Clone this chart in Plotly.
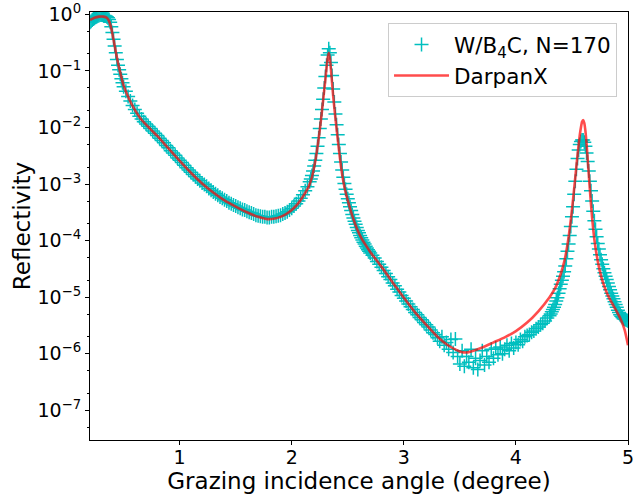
import numpy as np
import plotly.graph_objects as go

# ---------------- measured data (W/B4C, N=170) ----------------
data_angle = [
    0.20, 0.21, 0.22, 0.23, 0.24, 0.25, 0.26, 0.27, 0.28, 0.29, 0.30, 0.31, 0.32, 0.33, 0.34, 0.35,
    0.36, 0.37, 0.38, 0.39, 0.40, 0.41, 0.42, 0.43, 0.44, 0.45, 0.46, 0.47, 0.48, 0.49, 0.50,
    0.52, 0.54, 0.56, 0.58, 0.60, 0.62, 0.64, 0.66, 0.68, 0.70, 0.72, 0.74, 0.76, 0.78, 0.80,
    0.82, 0.84, 0.86, 0.88, 0.90, 0.92, 0.94, 0.96, 0.98, 1.00, 1.02, 1.04, 1.06, 1.08, 1.10,
    1.12, 1.14, 1.16, 1.18, 1.20, 1.22, 1.24, 1.26, 1.28, 1.30, 1.32, 1.34, 1.36, 1.38, 1.40,
    1.42, 1.44, 1.46, 1.48, 1.50, 1.52, 1.54, 1.56, 1.58, 1.60, 1.62, 1.64, 1.66, 1.68, 1.70,
    1.72, 1.74, 1.76, 1.78, 1.80, 1.82, 1.84, 1.86, 1.88, 1.90, 1.92, 1.94, 1.96, 1.98, 2.00,
    2.02, 2.04, 2.06, 2.08, 2.10, 2.12, 2.14, 2.16,
    2.17, 2.18, 2.19, 2.20, 2.21, 2.22, 2.23, 2.24, 2.25, 2.26, 2.27, 2.28, 2.29, 2.30, 2.31,
    2.32, 2.33, 2.34, 2.35, 2.36, 2.37, 2.38, 2.39, 2.40, 2.41, 2.42, 2.43, 2.44, 2.45, 2.46,
    2.47, 2.48, 2.49, 2.50, 2.51, 2.52, 2.53, 2.54, 2.55, 2.56, 2.57, 2.58, 2.59, 2.60, 2.61,
    2.62, 2.63, 2.64, 2.65, 2.66, 2.67, 2.68, 2.69, 2.70,
    2.72, 2.74, 2.76, 2.78, 2.80, 2.82, 2.84, 2.86, 2.88, 2.90, 2.92, 2.94, 2.96, 2.98, 3.00,
    3.02, 3.04, 3.06, 3.08, 3.10, 3.12, 3.14, 3.16, 3.18, 3.20, 3.22, 3.24, 3.26, 3.28, 3.30,
    3.32, 3.34, 3.36, 3.38, 3.40, 3.42, 3.44, 3.46, 3.48, 3.50, 3.52, 3.54, 3.56, 3.58, 3.60,
    3.62, 3.64, 3.66, 3.68, 3.70, 3.72, 3.74, 3.76, 3.78, 3.80, 3.82, 3.84, 3.86, 3.88, 3.90,
    3.92, 3.94, 3.96, 3.98, 4.00, 4.02, 4.04, 4.06, 4.08, 4.10, 4.12, 4.14, 4.16, 4.18, 4.20,
    4.22, 4.24, 4.26, 4.28, 4.30,
    4.31, 4.32, 4.33, 4.34, 4.35, 4.36, 4.37, 4.38, 4.39, 4.40, 4.41, 4.42, 4.43, 4.44, 4.45,
    4.46, 4.47, 4.48, 4.49, 4.50, 4.51, 4.52, 4.53, 4.54, 4.55, 4.56, 4.57, 4.58, 4.59, 4.60,
    4.61, 4.62, 4.63, 4.64, 4.65, 4.66, 4.67, 4.68, 4.69, 4.70, 4.71, 4.72, 4.73, 4.74, 4.75,
    4.76, 4.77, 4.78, 4.79, 4.80, 4.81, 4.82, 4.83, 4.84, 4.85, 4.86, 4.87, 4.88, 4.89, 4.90,
    4.91, 4.92, 4.93, 4.94, 4.95, 4.96, 4.97, 4.98, 4.99, 5.00,
]
# log10 of reflectivity
data_log10R = [
    -0.14, -0.12, -0.10, -0.08, -0.07, -0.05, -0.04, -0.03, -0.02, -0.01, -0.01, -0.01, -0.02, -0.02, -0.03, -0.04,
    -0.06, -0.09, -0.14, -0.22, -0.32, -0.44, -0.56, -0.68, -0.80, -0.90, -0.98, -1.06, -1.14, -1.21, -1.28,
    -1.36, -1.45, -1.53, -1.61, -1.68, -1.75, -1.80, -1.85, -1.90, -1.94, -1.98, -2.02, -2.06, -2.10, -2.14,
    -2.19, -2.23, -2.27, -2.32, -2.36, -2.41, -2.45, -2.49, -2.54, -2.58, -2.62, -2.67, -2.71, -2.75, -2.79,
    -2.83, -2.87, -2.91, -2.94, -2.98, -3.01, -3.04, -3.08, -3.11, -3.14, -3.17, -3.20, -3.23, -3.25, -3.28,
    -3.30, -3.33, -3.35, -3.37, -3.39, -3.41, -3.43, -3.45, -3.46, -3.48, -3.50, -3.51, -3.53, -3.55, -3.56,
    -3.57, -3.58, -3.58, -3.59, -3.59, -3.58, -3.58, -3.57, -3.56, -3.55, -3.53, -3.51, -3.49, -3.46, -3.43,
    -3.39, -3.35, -3.30, -3.25, -3.19, -3.12, -3.05, -2.96,
    -2.91, -2.85, -2.77, -2.68, -2.58, -2.46, -2.33, -2.18, -2.02, -1.85, -1.68, -1.50, -1.30, -1.10, -0.90,
    -0.72, -0.61, -0.68, -0.85, -1.08, -1.32, -1.55, -1.76, -1.95, -2.13, -2.30, -2.46, -2.61, -2.75, -2.88,
    -2.99, -3.09, -3.18, -3.26, -3.33, -3.40, -3.47, -3.54, -3.60, -3.66, -3.71, -3.77, -3.82, -3.86, -3.91,
    -3.95, -3.99, -4.03, -4.06, -4.10, -4.13, -4.16, -4.19, -4.22,
    -4.26, -4.31, -4.37, -4.42, -4.47, -4.53, -4.58, -4.64, -4.69, -4.75, -4.80, -4.86, -4.91, -4.97, -5.02,
    -5.07, -5.12, -5.17, -5.22, -5.27, -5.31, -5.36, -5.40, -5.45, -5.49, -5.53, -5.58, -5.63, -5.66, -5.72,
    -5.78, -5.70, -5.85, -5.80, -5.92, -5.75, -5.98, -5.74, -6.05, -6.18, -5.95, -6.22, -6.05, -6.15, -5.92,
    -6.25, -6.08, -6.28, -6.12, -5.95, -6.20, -6.05, -6.15, -5.92, -6.08, -5.90, -6.02, -5.88, -6.00, -5.92,
    -5.85, -5.95, -5.82, -5.90, -5.80, -5.84, -5.75, -5.78, -5.70, -5.68, -5.66, -5.62, -5.60, -5.56, -5.53,
    -5.49, -5.46, -5.42, -5.37, -5.33,
    -5.30, -5.26, -5.22, -5.18, -5.13, -5.07, -5.01, -4.93, -4.85, -4.77, -4.70, -4.63, -4.55, -4.45, -4.32,
    -4.19, -4.06, -3.91, -3.75, -3.58, -3.40, -3.18, -2.95, -2.74, -2.55, -2.40, -2.30, -2.25, -2.22, -2.22,
    -2.26, -2.33, -2.45, -2.60, -2.77, -2.95, -3.12, -3.30, -3.48, -3.65, -3.80, -3.93, -4.05, -4.15, -4.25,
    -4.34, -4.42, -4.50, -4.57, -4.63, -4.69, -4.75, -4.81, -4.87, -4.93, -4.98, -5.03, -5.08, -5.13, -5.18,
    -5.23, -5.27, -5.31, -5.34, -5.36, -5.38, -5.39, -5.40, -5.41, -5.42,
]

# ---------------- DarpanX model curve ----------------
model_angle = [
    0.20, 0.24, 0.28, 0.32, 0.35, 0.37, 0.39, 0.41, 0.43, 0.45, 0.47, 0.50, 0.55, 0.60, 0.65,
    0.70, 0.75, 0.80, 0.90, 1.00, 1.10, 1.20, 1.30, 1.40, 1.50, 1.60, 1.70, 1.78, 1.85, 1.90,
    1.95, 2.00, 2.05, 2.10, 2.15, 2.18, 2.20, 2.22, 2.24, 2.26, 2.28, 2.30, 2.31, 2.32, 2.33,
    2.34, 2.35, 2.36, 2.37, 2.38, 2.39, 2.40, 2.42, 2.44, 2.46, 2.48, 2.50, 2.54, 2.58, 2.62,
    2.66, 2.70, 2.80, 2.90, 3.00, 3.10, 3.20, 3.30, 3.40, 3.50, 3.55, 3.60, 3.70, 3.80, 3.90,
    4.00, 4.10, 4.20, 4.30, 4.35, 4.40, 4.43, 4.45, 4.47, 4.49, 4.51, 4.53, 4.55, 4.57, 4.58,
    4.59, 4.60, 4.61, 4.62, 4.63, 4.64, 4.65, 4.66, 4.67, 4.68, 4.69, 4.70, 4.72, 4.74, 4.77,
    4.81, 4.85, 4.89, 4.93, 4.97, 5.00,
]
model_log10R = [
    -0.10, -0.06, -0.04, -0.04, -0.06, -0.12, -0.25, -0.45, -0.66, -0.86, -1.03, -1.26, -1.50, -1.69, -1.84,
    -1.95, -2.05, -2.15, -2.37, -2.59, -2.80, -2.99, -3.15, -3.29, -3.40, -3.50, -3.58, -3.62, -3.61, -3.58,
    -3.53, -3.46, -3.36, -3.22, -3.05, -2.88, -2.70, -2.48, -2.20, -1.88, -1.52, -1.15, -0.95, -0.78, -0.68,
    -0.78, -0.98, -1.22, -1.45, -1.65, -1.84, -2.02, -2.38, -2.70, -2.95, -3.14, -3.29, -3.56, -3.78, -3.95,
    -4.08, -4.20, -4.46, -4.74, -5.01, -5.27, -5.49, -5.70, -5.86, -5.96, -5.98, -5.96, -5.89, -5.80, -5.71,
    -5.60, -5.45, -5.25, -5.00, -4.84, -4.59, -4.38, -4.19, -3.94, -3.63, -3.27, -2.88, -2.48, -2.13, -2.00,
    -1.90, -1.87, -1.92, -2.06, -2.28, -2.55, -2.83, -3.10, -3.36, -3.60, -3.80, -3.98, -4.25, -4.46, -4.70,
    -4.92, -5.08, -5.22, -5.37, -5.58, -5.85,
]

x_tick_vals = [1, 2, 3, 4, 5]
y_tick_exponents = [0, -1, -2, -3, -4, -5, -6, -7]

data_R = np.power(10.0, np.array(data_log10R))
model_R = np.power(10.0, np.array(model_log10R))

FONT = "DejaVu Sans"

fig = go.Figure()
fig.add_trace(go.Scatter(
    x=data_angle, y=data_R, mode="markers",
    name="W/B<sub>4</sub>C, N=170",
    marker=dict(symbol="cross-thin", size=10, color="#00bfbf",
                line=dict(color="#00bfbf", width=1.5)),
))
fig.add_trace(go.Scatter(
    x=model_angle, y=model_R, mode="lines", name="DarpanX",
    line=dict(color="rgba(255,0,0,0.7)", width=2.6, shape="spline", smoothing=0.5),
))

fig.update_layout(
    template="none",
    width=634, height=499,
    margin=dict(l=90, r=6, t=12, b=59),
    paper_bgcolor="white", plot_bgcolor="white",
    font=dict(family=FONT, size=19, color="black"),
    showlegend=True,
    legend=dict(
        x=0.9796, y=0.974, xanchor="right", yanchor="top",
        bgcolor="rgba(255,255,255,0.8)", bordercolor="#cccccc", borderwidth=1,
        font=dict(family=FONT, size=21.5, color="black"),
        tracegroupgap=2, itemwidth=55,
    ),
)
fig.update_xaxes(
    range=[0.2, 5.0], tickvals=x_tick_vals, ticktext=[str(v) for v in x_tick_vals],
    ticks="outside", ticklen=4, tickwidth=1, tickcolor="black",
    ticklabelstandoff=-4, ticklabeloverflow="allow",
    showline=True, linecolor="black", linewidth=1, mirror=True,
    showgrid=False, zeroline=False,
    tickfont=dict(family=FONT, size=19, color="black"),
    title=dict(text="Grazing incidence angle (degree)", font=dict(family=FONT, size=23, color="black"), standoff=0),
    automargin=False,
)
fig.update_yaxes(
    type="log", range=[-7.526, 0.042],
    tickvals=[10.0 ** e for e in y_tick_exponents],
    ticktext=["10<sup>%s</sup>" % (str(e).replace("-", "\u2212")) for e in y_tick_exponents],
    ticks="outside", ticklen=4, tickwidth=1, tickcolor="black",
    minor=dict(ticks="outside", ticklen=2, tickwidth=0.8, tickcolor="black", showgrid=False),
    showline=True, linecolor="black", linewidth=1, mirror=True,
    showgrid=False, zeroline=False,
    tickfont=dict(family=FONT, size=19, color="black"),
    title=dict(text="Reflectivity", font=dict(family=FONT, size=23, color="black"), standoff=0),
    automargin=False,
)

fig.write_html("out.html")
